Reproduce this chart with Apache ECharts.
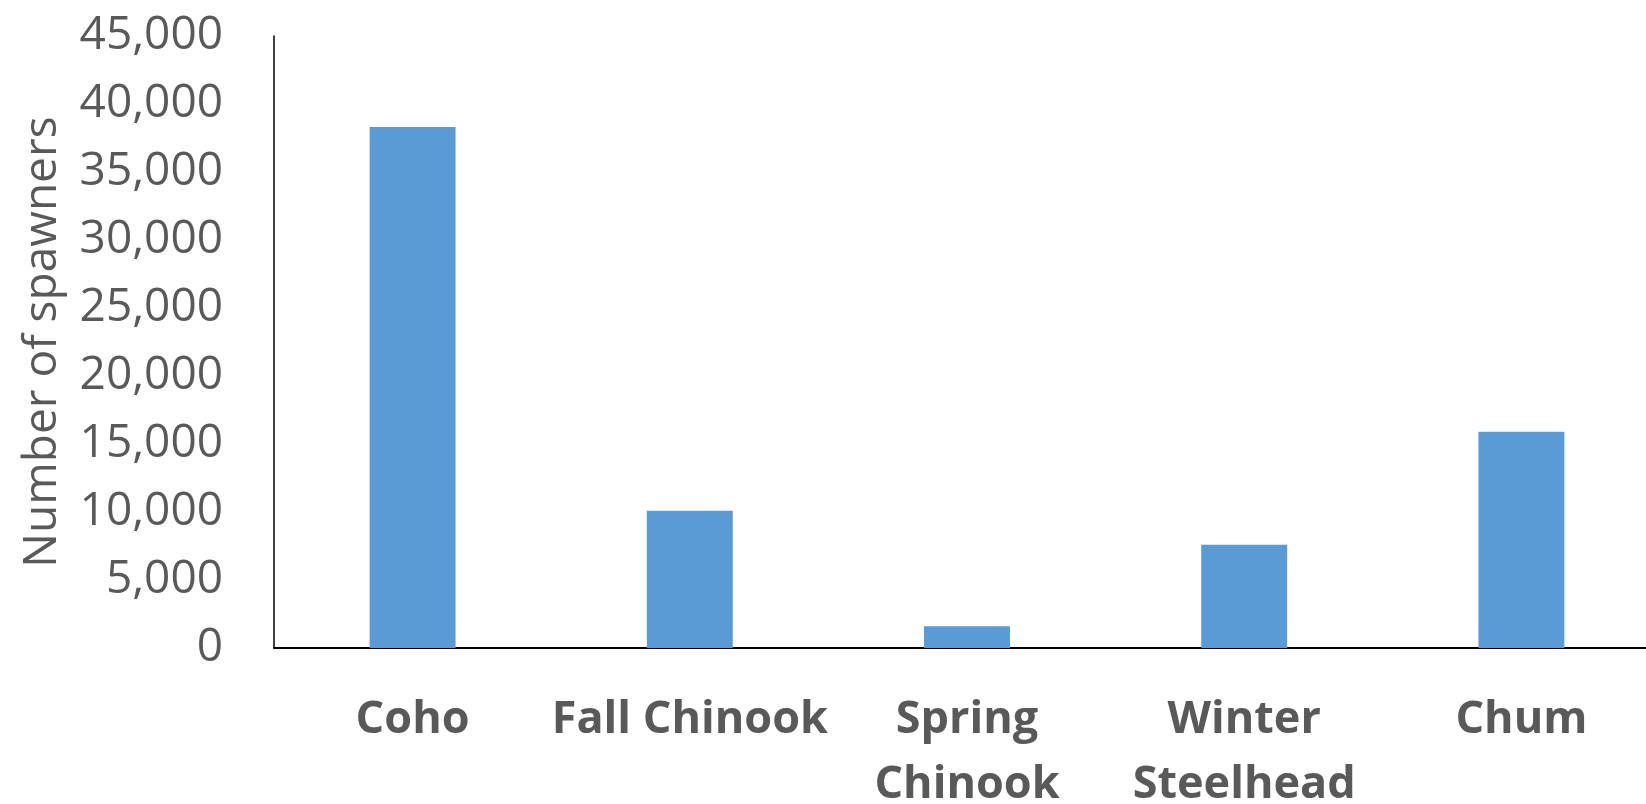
<!DOCTYPE html>
<html>
<head>
<meta charset="utf-8">
<script src="https://cdn.jsdelivr.net/npm/echarts@6/dist/echarts.min.js"></script>
<style>
html,body{margin:0;padding:0;background:#fff;}
#chart{width:1646px;height:804px;}
</style>
</head>
<body>
<div id="chart"></div>
<script>
const categories = ['Coho', 'Fall Chinook', 'Spring\nChinook', 'Winter\nSteelhead', 'Chum'];
const spawners = [38300, 10100, 1600, 7600, 15900];
const yAxisTitle = 'Number of spawners';

const chart = echarts.init(document.getElementById('chart'));
chart.setOption({
  animation: false,
  backgroundColor: '#ffffff',
  grid: { left: 274, right: -14, top: 36, bottom: 156, containLabel: false, outerBoundsMode: 'none' },
  xAxis: {
    type: 'category',
    data: categories,
    axisLine: { lineStyle: { color: '#000000', width: 2 } },
    axisTick: { show: false },
    axisLabel: {
      margin: 40,
      fontFamily: 'Open Sans',
      fontWeight: 'bold',
      fontSize: 45,
      lineHeight: 65,
      color: '#595959',
      interval: 0
    }
  },
  yAxis: {
    type: 'value',
    min: 0,
    max: 45000,
    interval: 5000,
    name: yAxisTitle,
    nameLocation: 'middle',
    nameGap: 208,
    nameRotate: 90,
    nameTextStyle: { fontFamily: 'Open Sans', fontSize: 46, color: '#595959' },
    axisLine: { show: true, lineStyle: { color: '#000000', width: 1.5 } },
    axisTick: { show: false },
    splitLine: { show: false },
    axisLabel: {
      margin: 51,
      fontFamily: 'Open Sans',
      fontSize: 46,
      color: '#595959',
      formatter: v => v.toLocaleString('en-US')
    }
  },
  series: [{
    type: 'bar',
    data: spawners,
    barWidth: '31%',
    itemStyle: { color: '#5B9BD5' }
  }]
});
</script>
</body>
</html>
